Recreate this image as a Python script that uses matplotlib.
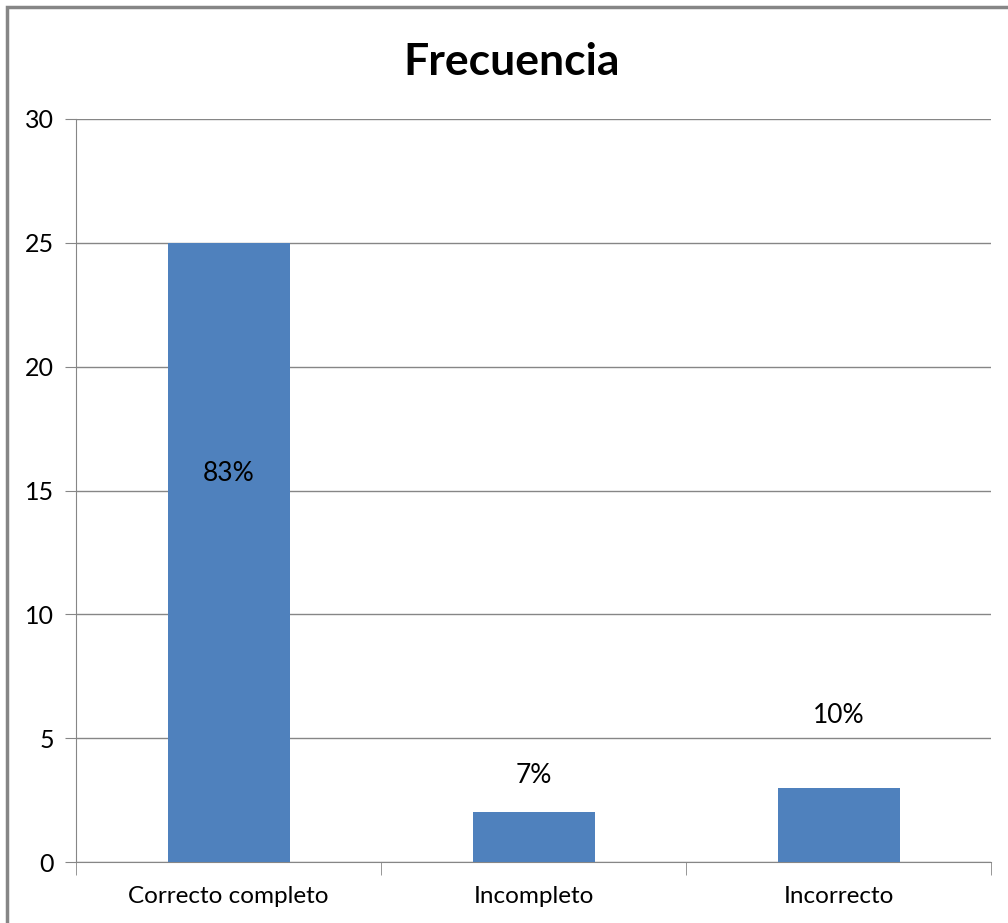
import matplotlib.pyplot as plt
from matplotlib.patches import Rectangle

categorias = ["Correcto completo", "Incompleto", "Incorrecto"]
frecuencia = [25, 2, 3]
porcentajes = ["83%", "7%", "10%"]
# posicion (en valores de y) de cada etiqueta
pos_etiqueta = [15.7, 3.5, 5.9]

plt.rcParams['font.family'] = ['Lato', 'DejaVu Sans']

fig = plt.figure(figsize=(10.08, 9.23), dpi=100)
ax = fig.add_axes([76 / 1008, 61 / 923, 915 / 1008, 743 / 923])

x = range(len(categorias))
ax.bar(x, frecuencia, width=0.4, color="#4F81BD", zorder=3)

for i, txt in enumerate(porcentajes):
    ax.text(i, pos_etiqueta[i], txt, ha="center", va="center", fontsize=19, color="black", zorder=4)

ax.set_xlim(-0.5, 2.5)
ax.set_ylim(0, 30)
ax.set_yticks([0, 5, 10, 15, 20, 25, 30])
ax.set_xticks(list(x))
ax.set_xticklabels(categorias)
ax.set_xticks([-0.5, 0.5, 1.5, 2.5], minor=True)
ax.tick_params(axis="x", which="major", length=0, pad=17, labelsize=17.5)
ax.tick_params(axis="x", which="minor", length=9, color="#868686")
ax.tick_params(axis="y", length=8, color="#868686", labelsize=18, pad=8)
ax.grid(axis="y", color="#868686", linewidth=1, zorder=0)

for s in ["top", "right"]:
    ax.spines[s].set_visible(False)
for s in ["left", "bottom"]:
    ax.spines[s].set_color("#868686")

# titulo centrado en el grafico entero, no en los ejes
ax.set_title("Frecuencia", fontsize=32, fontweight="bold", pad=32, x=0.4765)

# marco del grafico
fig.patches.append(Rectangle((7 / 1008, -0.1), 1.1, 1 - 7 / 923 + 0.1, transform=fig.transFigure,
                             fill=False, edgecolor="#868686", linewidth=2.5))

fig.savefig("out.png", dpi=100)
